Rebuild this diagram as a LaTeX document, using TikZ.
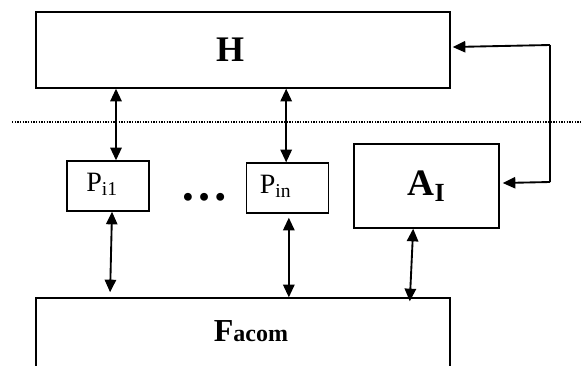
\documentclass[tikz,border=0pt]{standalone}
\usepackage{fontspec}
\setmainfont{Liberation Serif}
\usetikzlibrary{arrows.meta}

\begin{document}
\begin{tikzpicture}[x=0.75pt,y=-0.75pt,
        box/.style={draw, line width=1pt, inner sep=0pt},
        pbox/.style={box, minimum width=61.5pt, minimum height=37.5pt},
        bi/.style={{Triangle[length=9.5pt,width=8.5pt]}-{Triangle[length=9.5pt,width=8.5pt]}, line width=1.4pt},
        one/.style={-{Triangle[length=9.5pt,width=8.5pt]}, line width=1.4pt}]
        \useasboundingbox (0,0) rectangle (581,365);
        \clip (0,0) rectangle (581,365);
    % boxes
        \node[box, minimum width=310.5pt, minimum height=57pt,
            label={[xshift=-9.75pt]center:{\bfseries\fontsize{27}{30}\selectfont H}}] (H) at (243,50) {};
        \foreach \n/\x/\y/\dx/\t in {pa/108/186/-4.5/i1,pb/287.5/188/-9/in}{
            \node[pbox, label={[xshift=\dx pt,yshift=1.5pt]center:{\fontsize{21}{24}\selectfont P\textsubscript{\t}}}] (\n) at (\x,\y) {};
        }
        \node[box, minimum width=108.75pt, minimum height=63pt,
            label={center:{\bfseries\fontsize{28}{32}\selectfont A\textsubscript{I}}}] (A) at (426.5,186) {};
        \node[box, minimum width=310.5pt, minimum height=75pt,
            label={[xshift=6pt,yshift=12.5pt]center:{\bfseries\fontsize{24}{28}\selectfont F\fontsize{18}{22}\selectfont acom}}] (F) at (243,348) {};
        \node (dots) at (204,197) {\bfseries\fontsize{36}{36}\selectfont …};
    % level line
        \draw[line width=1.1pt, dash pattern=on 1.1pt off 0.9pt] (12,122) -- (581,122);
    % links
        \draw[bi] ([xshift=6pt]pa.north) -- ([xshift=6pt]pa.north |- H.south);
        \draw[bi] ([xshift=-1pt]pb.north) -- ([xshift=-1pt]pb.north |- H.south);
        \draw[bi, shorten >=3.75pt] ([xshift=3pt]pa.south) -- ([xshift=1.5pt]pa.south |- F.north);
        \draw[bi, shorten <=3pt] ([xshift=1pt]pb.south) -- ([xshift=1pt]pb.south |- F.north);
        \draw[bi, shorten >=-3pt] ([xshift=-10pt]A.south) -- ([xshift=-12.4pt]A.south |- F.north);
    % feedback
        \coordinate (fbtop) at (550,45);
        \coordinate (fbbot) at (550,182);
        \draw[line width=1pt] (fbtop) -- (fbbot);
        \draw[one] (fbtop) -- ([shift={(1.5pt,2.25pt)}]H.east);
        \draw[one] (fbbot) -- ([shift={(2.25pt,2.25pt)}]A.east);
\end{tikzpicture}
\end{document}
